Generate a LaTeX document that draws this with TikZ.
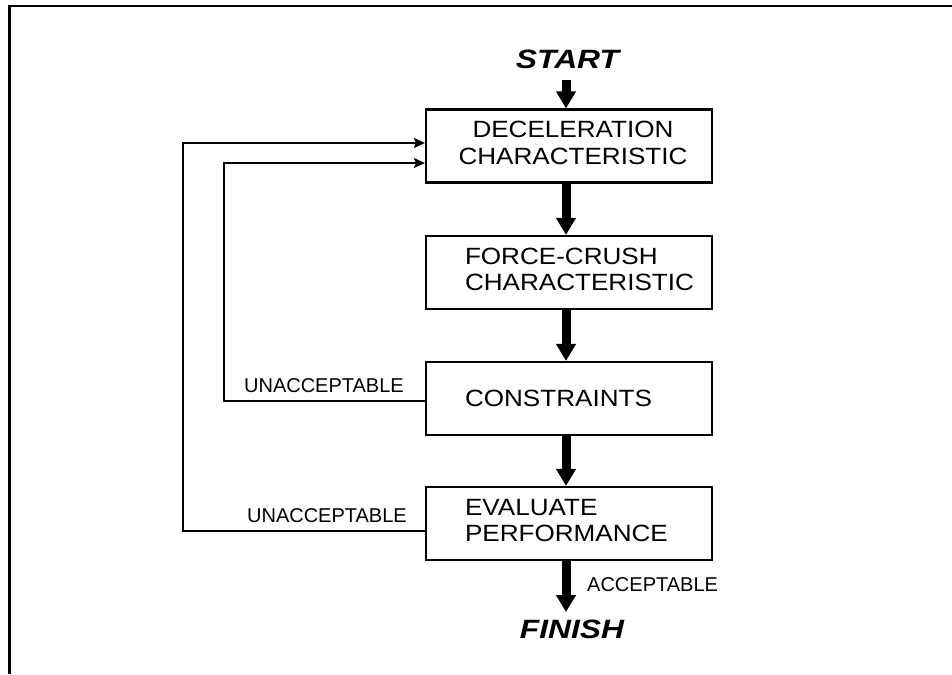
\documentclass[tikz,border=0pt]{standalone}
\usepackage{fontspec}
\setmainfont{Liberation Sans}
\usetikzlibrary{arrows.meta,calc}
\newcommand{\wx}[1]{\scalebox{1.11}[1]{#1}}
\newcommand{\wbig}[1]{\scalebox{1.2}[1]{#1}}
\begin{document}
\begin{tikzpicture}[x=1pt,y=-1pt,line join=miter,
  box/.style={draw,line width=2.2pt,minimum width=286pt,minimum height=73pt,inner sep=0pt,
    font=\fontsize{23.5}{26}\selectfont},
  bigarrow/.style={line width=9pt,-{Triangle[width=19pt,length=17pt]}},
  thinline/.style={line width=2pt},
  thinarrow/.style={thinline,-{Stealth[length=11pt,width=10pt,inset=2pt]}},
  lbl/.style={inner sep=0pt,font=\fontsize{20}{24}\selectfont},
  endlbl/.style={inner sep=0pt,font=\fontsize{26.5}{30}\selectfont\bfseries\itshape}]
\useasboundingbox (0,0) rectangle (952,674);
% frame
\draw[line width=2.6pt] (952,6) -- (9.5,6) -- (9.5,674);
% boxes
\node[box] (b1) at (569,146)
  {\hspace*{8pt}\begin{tabular}{@{}c@{}}\wx{DECELERATION}\\[1pt]\wx{CHARACTERISTIC}\end{tabular}};
\node[box] (b2) at (569,272.5)
  {\makebox[208pt][l]{\begin{tabular}{@{}l@{}}\wx{FORCE-CRUSH}\\\wx{CHARACTERISTIC}\end{tabular}}};
\node[box] (b3) at (569,398.5)
  {\makebox[208pt][l]{\wx{CONSTRAINTS}}};
\node[box] (b4) at (569,523.5)
  {\makebox[208pt][l]{\begin{tabular}{@{}l@{}}\wx{EVALUATE}\\\wx{PERFORMANCE}\end{tabular}}};
% start / finish
\node[endlbl,anchor=base] (start) at (567.5,69) {\wbig{START}};
\node[endlbl,anchor=base] (finish) at (572,638) {\wbig{FINISH}};
\coordinate (ax) at (566,0);
\coordinate (s0) at (566,80);
\coordinate (f0) at (566,612);
% main flow arrows
\draw[bigarrow] (s0) -- (b1.north -| ax);
\draw[bigarrow] (b1.south -| ax) -- (b2.north -| ax);
\draw[bigarrow] (b2.south -| ax) -- (b3.north -| ax);
\draw[bigarrow] (b3.south -| ax) -- (b4.north -| ax);
\draw[bigarrow] (b4.south -| ax) -- (f0);
% feedback loops
\coordinate (ya) at (183,531);
\coordinate (yb) at (183,143);
\coordinate (za) at (224,401);
\coordinate (zb) at (224,163);
\draw[thinarrow] (b4.west |- ya) -- (ya) -- (yb) -- (b1.west |- yb);
\draw[thinarrow] (b3.west |- za) -- (za) -- (zb) -- (b1.west |- zb);
% labels
\node[lbl,anchor=base east] (u1) at (404,392) {UNACCEPTABLE};
\node[lbl,anchor=base east] (u2) at (407,522) {UNACCEPTABLE};
\node[lbl,anchor=base west] (acc) at (587,591) {ACCEPTABLE};
\end{tikzpicture}
\end{document}
